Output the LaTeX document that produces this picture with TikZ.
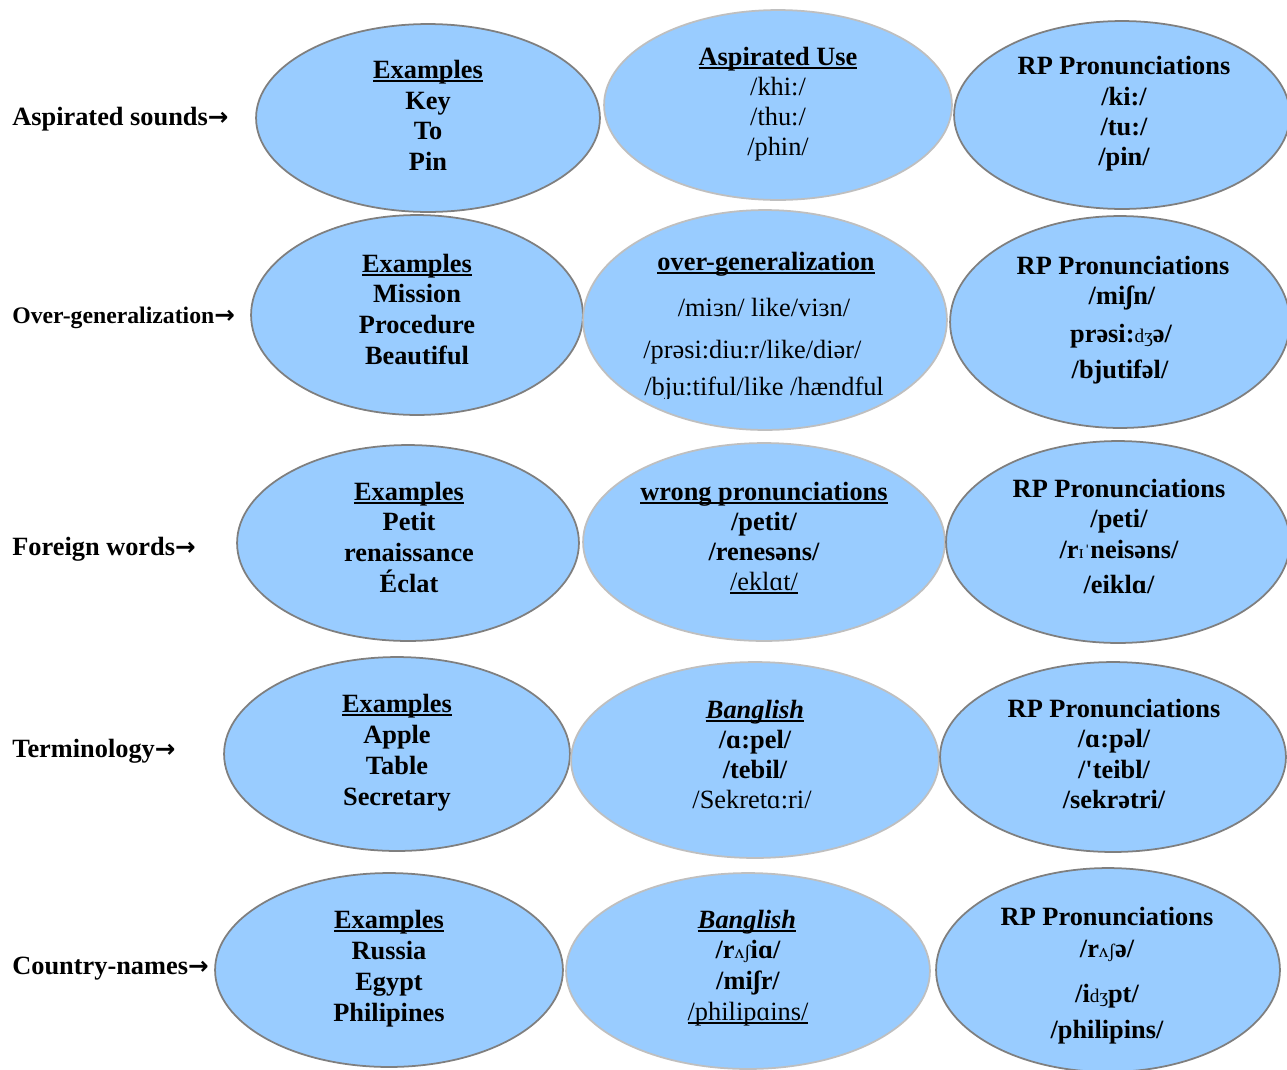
\documentclass[tikz,border=0pt]{standalone}
\usepackage{fontspec}
\setmainfont{Liberation Serif}[Ligatures=TeXOff]
\newfontfamily\arrowfont{DejaVu Sans}
\usetikzlibrary{shapes.geometric}
\definecolor{bubble}{HTML}{99CCFF}
\definecolor{rimdark}{HTML}{7F7F7F}
\definecolor{rimlight}{HTML}{BFBFBF}
% Word-style underline: a rule just under the baseline, crossing descenders
\newcommand\ulword[1]{\setbox0\hbox{#1}\rlap{\rule[-2.2pt]{\wd0}{1.1pt}}\box0}
\newcommand\smallipa[1]{{\fontsize{11}{13}\selectfont\mdseries #1}}
\newcommand\rarr{{\arrowfont\bfseries\fontsize{14}{16}\selectfont →}}
\tikzset{
  x=0.02cm, y=-0.02cm,
  bub/.style={ellipse, fill=bubble, line width=1pt, inner sep=0pt, outer sep=0pt},
  bubdark/.style={bub, draw=rimdark},
  bublight/.style={bub, draw=rimlight},
  ln/.style={anchor=base, inner sep=0pt, font=\fontsize{15}{17}\selectfont\bfseries},
  lnreg/.style={anchor=base, inner sep=0pt, font=\fontsize{15}{17}\selectfont},
  lbl/.style={anchor=base west, inner sep=0pt, font=\fontsize{15}{17}\selectfont\bfseries},
}
% ellipse node with centre (x,y) and half axes rx, ry (in pixel units)
\newcommand\bubblenode[6]{\node[#1, minimum width=#5*0.04cm, minimum height=#6*0.04cm] (#2) at (#3,#4) {};}
\begin{document}
\begin{tikzpicture}
\useasboundingbox (0,0) rectangle (1287,1069);
\clip (0,0) rectangle (1287,1069);

% ---- row labels ----
\node[lbl] (l1) at (12,125) {Aspirated sounds\rarr};
\node[lbl, font=\fontsize{13.5}{16}\selectfont\bfseries] (l2) at (12,323) {Over-generalization\rarr};
\node[lbl] (l3) at (12,555) {Foreign words\rarr};
\node[lbl] (l4) at (12,757) {Terminology\rarr};
\node[lbl] (l5) at (12,974) {Country-names\rarr};

% ---- ellipses ----
\bubblenode{bubdark}{a1}{428}{118}{172}{94}
\bubblenode{bublight}{a2}{778}{105}{174}{95}
\bubblenode{bubdark}{a3}{1122}{115}{168}{94}

\bubblenode{bubdark}{b1}{417}{315}{166}{100}
\bubblenode{bublight}{b2}{765}{320}{182}{110}
\bubblenode{bubdark}{b3}{1120}{322}{170}{106}

\bubblenode{bubdark}{c1}{408}{543}{171}{98}
\bubblenode{bublight}{c2}{764}{542}{181}{99}
\bubblenode{bubdark}{c3}{1118}{542}{172}{101}

\bubblenode{bubdark}{d1}{397}{754}{173}{97}
\bubblenode{bublight}{d2}{755}{760}{184}{98}
\bubblenode{bubdark}{d3}{1113}{757}{173}{95}

\bubblenode{bubdark}{e1}{389}{970}{174}{97}
\bubblenode{bublight}{e2}{748}{971}{182}{98}
\bubblenode{bubdark}{e3}{1108}{970}{172}{102}

% ---- row 1: aspirated sounds ----
\node[ln] (a1t1) at (428,78) {\ulword{Examples}};
\node[ln] (a1t2) at (428,109) {Key};
\node[ln] (a1t3) at (428,139) {To};
\node[ln] (a1t4) at (428,170) {Pin};

\node[ln] (a2t1) at (778,65) {\ulword{Aspirated Use}};
\node[lnreg] (a2t2) at (778,95) {/khi:/};
\node[lnreg] (a2t3) at (778,125) {/thu:/};
\node[lnreg] (a2t4) at (778,155) {/phin/};

\node[ln] (a3t1) at (1124,74) {RP Pronunciations};
\node[ln] (a3t2) at (1124,105) {/ki:/};
\node[ln] (a3t3) at (1124,135) {/tu:/};
\node[ln] (a3t4) at (1124,165) {/pin/};

% ---- row 2: over-generalization ----
\node[ln] (b1t1) at (417,272) {\ulword{Examples}};
\node[ln] (b1t2) at (417,302) {Mission};
\node[ln] (b1t3) at (417,333) {Procedure};
\node[ln] (b1t4) at (417,364) {Beautiful};

\node[ln] (b2t1) at (766,270) {\ulword{over-generalization}};
\node[lnreg] (b2t2) at (764,316) {/miɜn/ like/viɜn/};
\node[lnreg, anchor=base west] (b2t3) at (643,358) {/prəsi:diu:r/like/diər/};
\begin{scope}
  \clip (600,300) rectangle (930,398);
  \node[lnreg, anchor=base west] (b2t4) at (644,395) {/bju:tiful/like /hændful};
\end{scope}

\node[ln] (b3t1) at (1123,274) {RP Pronunciations};
\node[ln] (b3t2) at (1122,304) {/miʃn/};
\node[ln] (b3t3) at (1121,342) {prəsi:\smallipa{dʒ}ə/};
\node[ln] (b3t4) at (1120,378) {/bjutifəl/};

% ---- row 3: foreign words ----
\node[ln] (c1t1) at (409,500) {\ulword{Examples}};
\node[ln] (c1t2) at (409,530) {Petit};
\node[ln] (c1t3) at (409,561) {renaissance};
\node[ln] (c1t4) at (409,592) {Éclat};

\node[ln] (c2t1) at (764,500) {\ulword{wrong pronunciations}};
\node[ln] (c2t2) at (764,530) {/petit/};
\node[ln] (c2t3) at (764,560) {/renesəns/};
\node[lnreg] (c2t4) at (764,590) {\ulword{/eklɑt/}};

\node[ln] (c3t1) at (1119,497) {RP Pronunciations};
\node[ln] (c3t2) at (1119,527) {/peti/};
\node[ln] (c3t3) at (1119,558) {/r\smallipa{ɪˈ}neisəns/};
\node[ln] (c3t4) at (1119,593) {/eiklɑ/};

% ---- row 4: terminology ----
\node[ln] (d1t1) at (397,712) {\ulword{Examples}};
\node[ln] (d1t2) at (397,743) {Apple};
\node[ln] (d1t3) at (397,774) {Table};
\node[ln] (d1t4) at (397,805) {Secretary};

\node[ln] (d2t1) at (755,718) {\ulword{\itshape Banglish}};
\node[ln] (d2t2) at (755,748) {/ɑ:pel/};
\node[ln] (d2t3) at (755,778) {/tebil/};
\node[lnreg] (d2t4) at (752,808) {/Sekretɑ:ri/};

\node[ln] (d3t1) at (1114,717) {RP Pronunciations};
\node[ln] (d3t2) at (1114,747) {/ɑ:pəl/};
\node[ln] (d3t3) at (1114,778) {/'teibl/};
\node[ln] (d3t4) at (1114,808) {/sekrətri/};

% ---- row 5: country names ----
\node[ln] (e1t1) at (389,928) {\ulword{Examples}};
\node[ln] (e1t2) at (389,959) {Russia};
\node[ln] (e1t3) at (389,990) {Egypt};
\node[ln] (e1t4) at (389,1021) {Philipines};

\node[ln] (e2t1) at (747,928) {\ulword{\itshape Banglish}};
\node[ln] (e2t2) at (748,958) {/r\smallipa{ʌʃ}iɑ/};
\node[ln] (e2t3) at (748,989) {/miʃr/};
\node[lnreg] (e2t4) at (748,1020) {\ulword{/philipɑins/}};

\node[ln] (e3t1) at (1107,925) {RP Pronunciations};
\node[ln] (e3t2) at (1107,957) {/r\smallipa{ʌʃ}ə/};
\node[ln] (e3t3) at (1107,1002) {/i\smallipa{dʒ}pt/};
\begin{scope}
  \clip (950,1000) rectangle (1270,1043);
  \node[ln] (e3t4) at (1107,1038) {/philipins/};
\end{scope}
\end{tikzpicture}
\end{document}
